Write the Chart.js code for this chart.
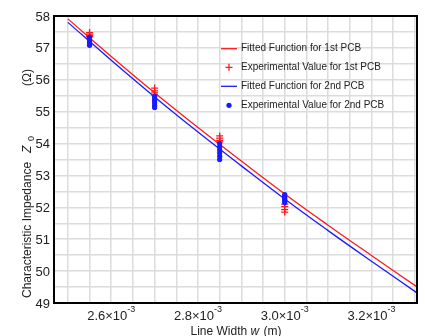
<!DOCTYPE html>
<html>
<head>
<meta charset="utf-8">
<script src="https://cdn.jsdelivr.net/npm/chart.js@4"></script>
<style>
  body { margin: 0; background: #fff; }
  canvas { display: block; }
</style>
</head>
<body>
<canvas id="impChart" width="425" height="336"></canvas>
<script>
// fitted curves (line width in m, impedance in ohm)
const fitX = [2.5e-3, 2.6e-3, 2.7e-3, 2.8e-3, 2.9e-3, 3.0e-3, 3.1e-3, 3.2e-3, 3.31e-3];
const fit1 = [57.91, 56.73, 55.59, 54.50, 53.45, 52.42, 51.44, 50.49, 49.46];
const fit2 = [57.80, 56.61, 55.46, 54.36, 53.30, 52.26, 51.27, 50.31, 49.27];

// measured values, 1st PCB
const exp1X = [2.55e-3, 2.55e-3, 2.55e-3, 2.55e-3,
               2.70e-3, 2.70e-3, 2.70e-3, 2.70e-3,
               2.85e-3, 2.85e-3, 2.85e-3, 2.85e-3,
               3.00e-3, 3.00e-3, 3.00e-3, 3.00e-3];
const exp1Y = [57.48, 57.43, 57.38, 57.35,
               55.74, 55.65, 55.59, 55.52,
               54.24, 54.17, 54.10, 54.05,
               52.10, 52.02, 51.93, 51.85];

// measured values, 2nd PCB
const exp2X = [2.55e-3, 2.55e-3, 2.55e-3, 2.55e-3, 2.55e-3, 2.55e-3,
               2.70e-3, 2.70e-3, 2.70e-3, 2.70e-3, 2.70e-3, 2.70e-3,
               2.85e-3, 2.85e-3, 2.85e-3, 2.85e-3, 2.85e-3, 2.85e-3,
               3.00e-3, 3.00e-3, 3.00e-3, 3.00e-3, 3.00e-3, 3.00e-3];
const exp2Y = [57.33, 57.28, 57.22, 57.17, 57.12, 57.08,
               55.48, 55.42, 55.35, 55.28, 55.20, 55.13,
               54.00, 53.90, 53.80, 53.70, 53.60, 53.50,
               52.40, 52.35, 52.30, 52.25, 52.20, 52.15];

const seriesNames = ['Fitted Function for 1st PCB', 'Experimental Value for 1st PCB',
                     'Fitted Function for 2nd PCB', 'Experimental Value for 2nd PCB'];

const xLabelTicks = [2.6e-3, 2.8e-3, 3.0e-3, 3.2e-3];
const yLabelTicks = [49, 50, 51, 52, 53, 54, 55, 56, 57, 58];

const RED = '#ff1a1a';
const BLUE = '#1a1aff';
const FONT = '"Liberation Sans", Arial, sans-serif';

const toPts = (xs, ys) => xs.map((x, i) => ({x: x, y: ys[i]}));

// grid every 0.05e-3 m and every 0.5 ohm
const gridX = [];
for (let i = 0; i <= 16; i++) gridX.push(2.5e-3 + i * 0.05e-3);
const gridY = [];
for (let i = 0; i <= 18; i++) gridY.push(49 + i * 0.5);

const decorations = {
    id: 'decorations',
    afterDraw(chart) {
        const ctx = chart.ctx;
        const {left, right, top, bottom} = chart.chartArea;
        const xs = chart.scales.x, ys = chart.scales.y;
        ctx.save();

        // frame
        ctx.strokeStyle = '#000';
        ctx.lineWidth = 2;
        ctx.strokeRect(left, top, right - left, bottom - top);

        ctx.fillStyle = '#222';

        // y tick labels
        ctx.font = '13px ' + FONT;
        ctx.textAlign = 'right';
        ctx.textBaseline = 'middle';
        yLabelTicks.forEach(v => ctx.fillText(String(v), left - 4, ys.getPixelForValue(v) + 1));

        // x tick labels like 2.6x10^-3
        ctx.textAlign = 'left';
        ctx.textBaseline = 'alphabetic';
        xLabelTicks.forEach(v => {
            const base = (v * 1e3).toFixed(1) + '×10';
            const sup = '-3';
            ctx.font = '13px ' + FONT;
            const wb = ctx.measureText(base).width;
            ctx.font = '9px ' + FONT;
            const ws = ctx.measureText(sup).width;
            const x0 = xs.getPixelForValue(v) - (wb + ws) / 2;
            ctx.font = '13px ' + FONT;
            ctx.fillText(base, x0, 320);
            ctx.font = '9px ' + FONT;
            ctx.fillText(sup, x0 + wb, 312);
        });

        // x title
        ctx.font = '12px ' + FONT;
        const p1 = 'Line Width ', p3 = ' (m)';
        const w1 = ctx.measureText(p1).width, w3 = ctx.measureText(p3).width;
        ctx.font = 'italic 12px ' + FONT;
        const w2 = ctx.measureText('w').width;
        let tx = (left + right) / 2 - (w1 + w2 + w3) / 2;
        ctx.font = '12px ' + FONT;
        ctx.fillText(p1, tx, 335);
        ctx.font = 'italic 12px ' + FONT;
        ctx.fillText('w', tx + w1, 335);
        ctx.font = '12px ' + FONT;
        ctx.fillText(p3, tx + w1 + w2 + 1, 335);

        // y title, rotated
        ctx.translate(31, 298);
        ctx.rotate(-Math.PI / 2);
        ctx.font = '12px ' + FONT;
        ctx.fillText('Characteristic Impedance', 0, 0);
        ctx.font = 'italic 12px ' + FONT;
        ctx.fillText('Z', 145, 0);
        ctx.font = '9px ' + FONT;
        ctx.fillText('0', 157, 3);
        ctx.font = '12px ' + FONT;
        ctx.fillText('(Ω)', 212, 0);
        ctx.setTransform(1, 0, 0, 1, 0, 0);

        // legend
        const rows = [48.7, 67.3, 86.3, 105.3];
        const colors = [RED, RED, BLUE, BLUE];
        ctx.font = '10px ' + FONT;
        ctx.textBaseline = 'middle';
        rows.forEach((y, i) => {
            ctx.strokeStyle = colors[i];
            ctx.fillStyle = colors[i];
            if (i === 0 || i === 2) {
                ctx.lineWidth = 1.3;
                ctx.beginPath();
                ctx.moveTo(221, y);
                ctx.lineTo(237, y);
                ctx.stroke();
            } else if (i === 1) {
                ctx.lineWidth = 1.3;
                ctx.beginPath();
                ctx.moveTo(225.5, y); ctx.lineTo(232.5, y);
                ctx.moveTo(229, y - 3.5); ctx.lineTo(229, y + 3.5);
                ctx.stroke();
            } else {
                ctx.beginPath();
                ctx.arc(229, y, 2.6, 0, Math.PI * 2);
                ctx.fill();
            }
            ctx.fillStyle = '#222';
            ctx.fillText(seriesNames[i], 241, y);
        });
        ctx.restore();
    }
};

new Chart(document.getElementById('impChart'), {
    type: 'scatter',
    data: {
        datasets: [{
            label: seriesNames[0],
            data: toPts(fitX, fit1),
            showLine: true,
            borderColor: RED,
            borderWidth: 1.3,
            pointRadius: 0,
            tension: 0.4,
            order: 4
        }, {
            label: seriesNames[1],
            data: toPts(exp1X, exp1Y),
            pointStyle: 'cross',
            pointRadius: 3.5,
            borderColor: RED,
            borderWidth: 1.3,
            order: 2
        }, {
            label: seriesNames[2],
            data: toPts(fitX, fit2),
            showLine: true,
            borderColor: BLUE,
            borderWidth: 1.3,
            pointRadius: 0,
            tension: 0.4,
            order: 3
        }, {
            label: seriesNames[3],
            data: toPts(exp2X, exp2Y),
            pointStyle: 'circle',
            pointRadius: 2.6,
            backgroundColor: BLUE,
            borderColor: BLUE,
            borderWidth: 0,
            order: 1
        }]
    },
    options: {
        responsive: false,
        animation: false,
        devicePixelRatio: 1,
        layout: {padding: {left: 54, right: 8, top: 16, bottom: 33}},
        plugins: {legend: {display: false}, tooltip: {enabled: false}},
        scales: {
            x: {
                type: 'linear',
                min: 2.468e-3,
                max: 3.305e-3,
                afterBuildTicks: s => { s.ticks = gridX.map(v => ({value: v})); },
                ticks: {display: false},
                grid: {color: '#dcdcdc', lineWidth: 1.5, drawTicks: false},
                border: {display: false}
            },
            y: {
                min: 49,
                max: 58,
                afterBuildTicks: s => { s.ticks = gridY.map(v => ({value: v})); },
                ticks: {display: false},
                grid: {color: '#dcdcdc', lineWidth: 1.5, drawTicks: false},
                border: {display: false}
            }
        }
    },
    plugins: [decorations]
});
</script>
</body>
</html>
